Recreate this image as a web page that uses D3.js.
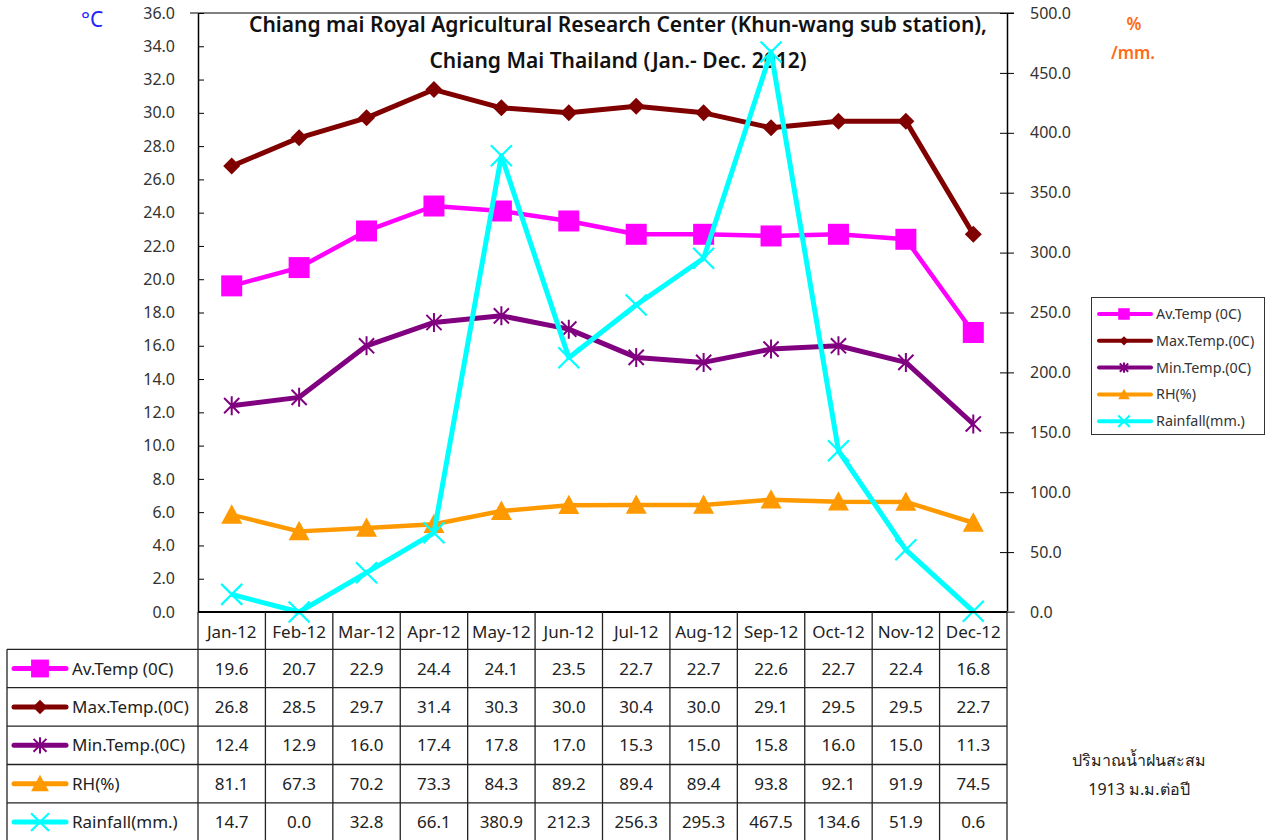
<!DOCTYPE html>
<html><head><meta charset="utf-8">
<script src="https://cdn.jsdelivr.net/npm/d3@7"></script>
<style>body{margin:0;background:#fff;} svg{display:block;font-family:"Noto Sans","Open Sans",sans-serif;}</style>
</head><body>
<svg id="c" width="1273" height="840"></svg>
<script>
const months = ["Jan-12","Feb-12","Mar-12","Apr-12","May-12","Jun-12","Jul-12","Aug-12","Sep-12","Oct-12","Nov-12","Dec-12"];
const avTemp = [19.6,20.7,22.9,24.4,24.1,23.5,22.7,22.7,22.6,22.7,22.4,16.8];
const maxTemp = [26.8,28.5,29.7,31.4,30.3,30.0,30.4,30.0,29.1,29.5,29.5,22.7];
const minTemp = [12.4,12.9,16.0,17.4,17.8,17.0,15.3,15.0,15.8,16.0,15.0,11.3];
const rh = [81.1,67.3,70.2,73.3,84.3,89.2,89.4,89.4,93.8,92.1,91.9,74.5];
const rainfall = [14.7,0.0,32.8,66.1,380.9,212.3,256.3,295.3,467.5,134.6,51.9,0.6];
const seriesNames = ["Av.Temp (0C)","Max.Temp.(0C)","Min.Temp.(0C)","RH(%)","Rainfall(mm.)"];
const leftTicks = d3.range(0, 36.01, 2);
const rightTicks = d3.range(0, 500.01, 50);
const titleLines = ["Chiang mai Royal Agricultural Research Center (Khun-wang sub station),","Chiang Mai Thailand (Jan.- Dec. 2012)"];
const noteLines = ["ปริมาณน้ำฝนสะสม","1913 ม.ม.ต่อปี"];

const svg = d3.select("#c");
const L = 198, R = 1007, T = 13, B = 612;
const x = d3.scaleBand().domain(months).range([L, R]);
const yL = d3.scaleLinear().domain([0, 36]).range([B, T]);
const yR = d3.scaleLinear().domain([0, 500]).range([B, T]);
const cx = m => x(m) + x.bandwidth() / 2;

const series = [
  {name: seriesNames[0], data: avTemp, color: "#FF00FF", axis: yL, marker: "square", lw: 4.5},
  {name: seriesNames[1], data: maxTemp, color: "#800000", axis: yL, marker: "diamond", lw: 5},
  {name: seriesNames[2], data: minTemp, color: "#800080", axis: yL, marker: "star", lw: 5},
  {name: seriesNames[3], data: rh, color: "#FF9900", axis: yR, marker: "triangle", lw: 4.5},
  {name: seriesNames[4], data: rainfall, color: "#00FFFF", axis: yR, marker: "x", lw: 5}
];

function drawMarker(g, type, px, py, s, color) {
  const h = s / 2;
  if (type === "square") {
    g.append("rect").attr("x", px - h).attr("y", py - h).attr("width", s).attr("height", s).attr("fill", color);
  } else if (type === "diamond") {
    g.append("path").attr("d", `M${px},${py-h}L${px+h},${py}L${px},${py+h}L${px-h},${py}Z`).attr("fill", color);
  } else if (type === "triangle") {
    g.append("path").attr("d", `M${px},${py-h}L${px+h},${py+h*0.85}L${px-h},${py+h*0.85}Z`).attr("fill", color);
  } else if (type === "star") {
    const d = h * 0.8;
    g.append("path").attr("d", `M${px-d},${py-d}L${px+d},${py+d}M${px-d},${py+d}L${px+d},${py-d}M${px},${py-h}L${px},${py+h}`)
      .attr("stroke", color).attr("stroke-width", 2).attr("fill", "none");
  } else if (type === "x") {
    g.append("path").attr("d", `M${px-h},${py-h}L${px+h},${py+h}M${px-h},${py+h}L${px+h},${py-h}`)
      .attr("stroke", color).attr("stroke-width", 2.2).attr("fill", "none");
  }
}
const mSize = {square: 21, diamond: 17, star: 19, triangle: 21, x: 21};

// top border (gray)
svg.append("line").attr("x1", 190).attr("x2", 1014).attr("y1", T).attr("y2", T).attr("stroke", "#808080").attr("stroke-width", 2);

// Title
svg.append("g").selectAll("text").data(titleLines).join("text")
  .attr("x", 618).attr("y", (d, i) => 32 + i * 36).attr("text-anchor", "middle")
  .attr("font-size", 21).attr("font-weight", 600).attr("fill", "#111").text(d => d);

// Lines & markers
const lineGen = ax => d3.line().x((d, i) => cx(months[i])).y(d => ax(d));
series.forEach(s => {
  const g = svg.append("g");
  g.append("path").datum(s.data).attr("d", lineGen(s.axis)).attr("fill", "none")
    .attr("stroke", s.color).attr("stroke-width", s.lw).attr("stroke-linejoin", "round");
  s.data.forEach((v, i) => drawMarker(g, s.marker, cx(months[i]), s.axis(v), mSize[s.marker], s.color));
});

// Axes
const axL = svg.append("g").attr("transform", `translate(${L},0)`)
  .call(d3.axisLeft(yL).tickValues(leftTicks).tickFormat(d3.format(".1f")).tickSizeInner(8).tickSizeOuter(0));
axL.selectAll(".tick line").attr("x2", 6).attr("stroke", "#000");
axL.selectAll(".tick text").attr("x", -23).attr("font-size", 16).attr("fill", "#333").attr("font-family", "Noto Sans, sans-serif");
axL.select(".domain").attr("stroke", "#000").attr("stroke-width", 1.5);

const axR = svg.append("g").attr("transform", `translate(${R},0)`)
  .call(d3.axisRight(yR).tickValues(rightTicks).tickFormat(d3.format(".1f")).tickSizeInner(7).tickSizeOuter(0));
axR.selectAll(".tick line").attr("x1", -7).attr("stroke", "#000");
axR.selectAll(".tick text").attr("x", 23).attr("font-size", 16).attr("fill", "#333").attr("font-family", "Noto Sans, sans-serif");
axR.select(".domain").attr("stroke", "#000").attr("stroke-width", 1.5);

// zero line
svg.append("line").attr("x1", L).attr("x2", R).attr("y1", B).attr("y2", B).attr("stroke", "#000").attr("stroke-width", 2);
svg.append("line").attr("x1", R).attr("x2", 1015).attr("y1", B).attr("y2", B).attr("stroke", "#808080").attr("stroke-width", 1.5);

// unit labels
svg.append("text").attr("x", 81).attr("y", 27).attr("font-size", 21).attr("fill", "#2222FF").text("°C");
svg.append("text").attr("x", 1134).attr("y", 30).attr("text-anchor", "middle").attr("font-size", 17).attr("fill", "#FF6A13").attr("font-weight", 600).text("%");
svg.append("text").attr("x", 1133).attr("y", 59).attr("text-anchor", "middle").attr("font-size", 17).attr("fill", "#FF6A13").attr("font-weight", 600).text("/mm.");

// Data table
const rowTop = 649.3, rowH = 38.4, tblL = 7;
const tbl = svg.append("g");
tbl.selectAll("text.m").data(months).join("text").attr("class", "m")
  .attr("x", d => cx(d)).attr("y", 638).attr("text-anchor", "middle").attr("font-size", 17).attr("fill", "#222").text(d => d);
const vx = [L, ...months.map(m => x(m) + x.bandwidth())];
vx.forEach(v => tbl.append("line").attr("x1", v).attr("x2", v).attr("y1", B).attr("y2", 841).attr("stroke", "#222").attr("stroke-width", 1.3));
tbl.append("line").attr("x1", tblL).attr("x2", tblL).attr("y1", rowTop).attr("y2", 841).attr("stroke", "#222").attr("stroke-width", 1.3);
d3.range(0, 6).forEach(i => tbl.append("line").attr("x1", tblL).attr("x2", R).attr("y1", rowTop + i * rowH).attr("y2", rowTop + i * rowH).attr("stroke", "#222").attr("stroke-width", 1.3));
series.forEach((s, r) => {
  const yc = rowTop + r * rowH + rowH / 2;
  tbl.append("line").attr("x1", 14).attr("x2", 66).attr("y1", yc).attr("y2", yc).attr("stroke", s.color).attr("stroke-width", 5).attr("stroke-linecap", "round");
  drawMarker(tbl, s.marker, 40, yc, mSize[s.marker] * 0.85, s.color);
  tbl.append("text").attr("x", 72).attr("y", yc + 6).attr("font-size", 17).attr("fill", "#222").text(s.name);
  s.data.forEach((v, i) => tbl.append("text").attr("x", cx(months[i])).attr("y", yc + 6).attr("text-anchor", "middle")
    .attr("font-size", 17).attr("fill", "#222").text(v.toFixed(1)));
});

// Legend
const lg = svg.append("g");
lg.append("rect").attr("x", 1091.5).attr("y", 297.5).attr("width", 173).attr("height", 137).attr("fill", "#fff").attr("stroke", "#333").attr("stroke-width", 1);
series.forEach((s, i) => {
  const yc = 314 + i * 26.8;
  lg.append("line").attr("x1", 1099).attr("x2", 1151).attr("y1", yc).attr("y2", yc).attr("stroke", s.color).attr("stroke-width", 4).attr("stroke-linecap", "round");
  drawMarker(lg, s.marker, 1124, yc, mSize[s.marker] * 0.55, s.color);
  lg.append("text").attr("x", 1156).attr("y", yc + 5).attr("font-size", 14.3).attr("fill", "#333").text(s.name);
});

// Note
svg.append("g").selectAll("text").data(noteLines).join("text")
  .attr("x", 1139).attr("y", (d, i) => 766 + i * 29).attr("text-anchor", "middle").attr("font-size", 16).attr("fill", "#222").text(d => d);
</script>
</body></html>
